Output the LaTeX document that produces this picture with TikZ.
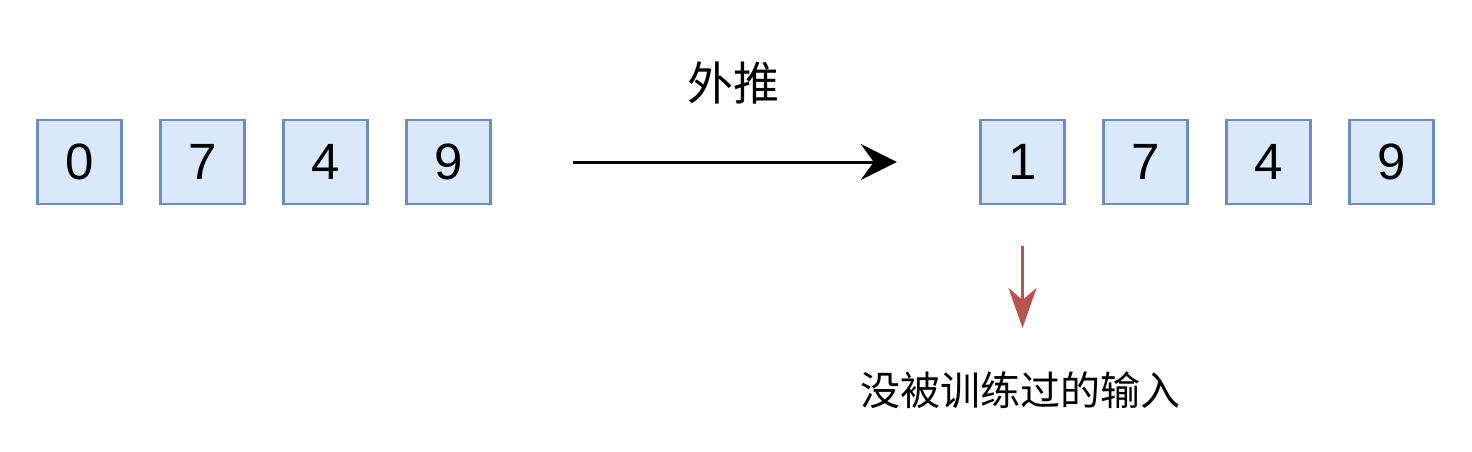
\documentclass[tikz,border=0pt]{standalone}
\usepackage{fontspec}
\setmainfont{Liberation Sans}
\newfontfamily\cjk{Noto Sans CJK SC}
\usepackage{tikz}
\usetikzlibrary{positioning}
\usetikzlibrary{arrows.meta}
\usetikzlibrary{matrix}
\definecolor{boxfill}{HTML}{DAE8FC}
\definecolor{boxline}{HTML}{6C8EBF}
\definecolor{arrowred}{HTML}{B85450}

\begin{document}
\begin{tikzpicture}[x=1pt,y=-1pt]

\tikzset{digit row/.style={
		matrix of nodes,
		column sep=36.5pt,
		nodes={draw=boxline, fill=boxfill, line width=2.5pt,
			minimum height=#1,
			anchor=center,
			text width=#1,
			align=center,
			inner sep=0pt,
			font=\fontsize{51}{51}\selectfont
		},
	},
	digit row/.default=84pt,
	push arrow/.style={line width=3pt, -{Stealth[length=36pt, width=36pt, inset=13pt]}},
	note arrow/.style={line width=3pt, draw=arrowred, -{Stealth[length=40pt, width=28pt, inset=12pt, fill=arrowred]}}
}
\useasboundingbox (0,0) rectangle (1472,452);

\matrix[digit row] (before) at (264,162)
{
	0 & 7 & 4 & 9 \\
};
\matrix[digit row] (after) at (1207,162)
{
	1 & 7 & 4 & 9 \\
};

\node[anchor=base, inner sep=0pt, font=\cjk\fontsize{46}{46}\selectfont] (extrap) at (733,100) {外推};
\node[anchor=base, inner sep=0pt, font=\cjk\fontsize{40}{40}\selectfont] (untrained) at (1020,405) {没被训练过的输入};

\draw[push arrow, shorten <=81.5pt, shorten >=82.5pt] (before-1-4.east) -- (after-1-1.west);
\draw[note arrow, shorten <=41pt, shorten >=43pt] (after-1-1.south) -- (after-1-1.south |- untrained.north);
\end{tikzpicture}
\end{document}
